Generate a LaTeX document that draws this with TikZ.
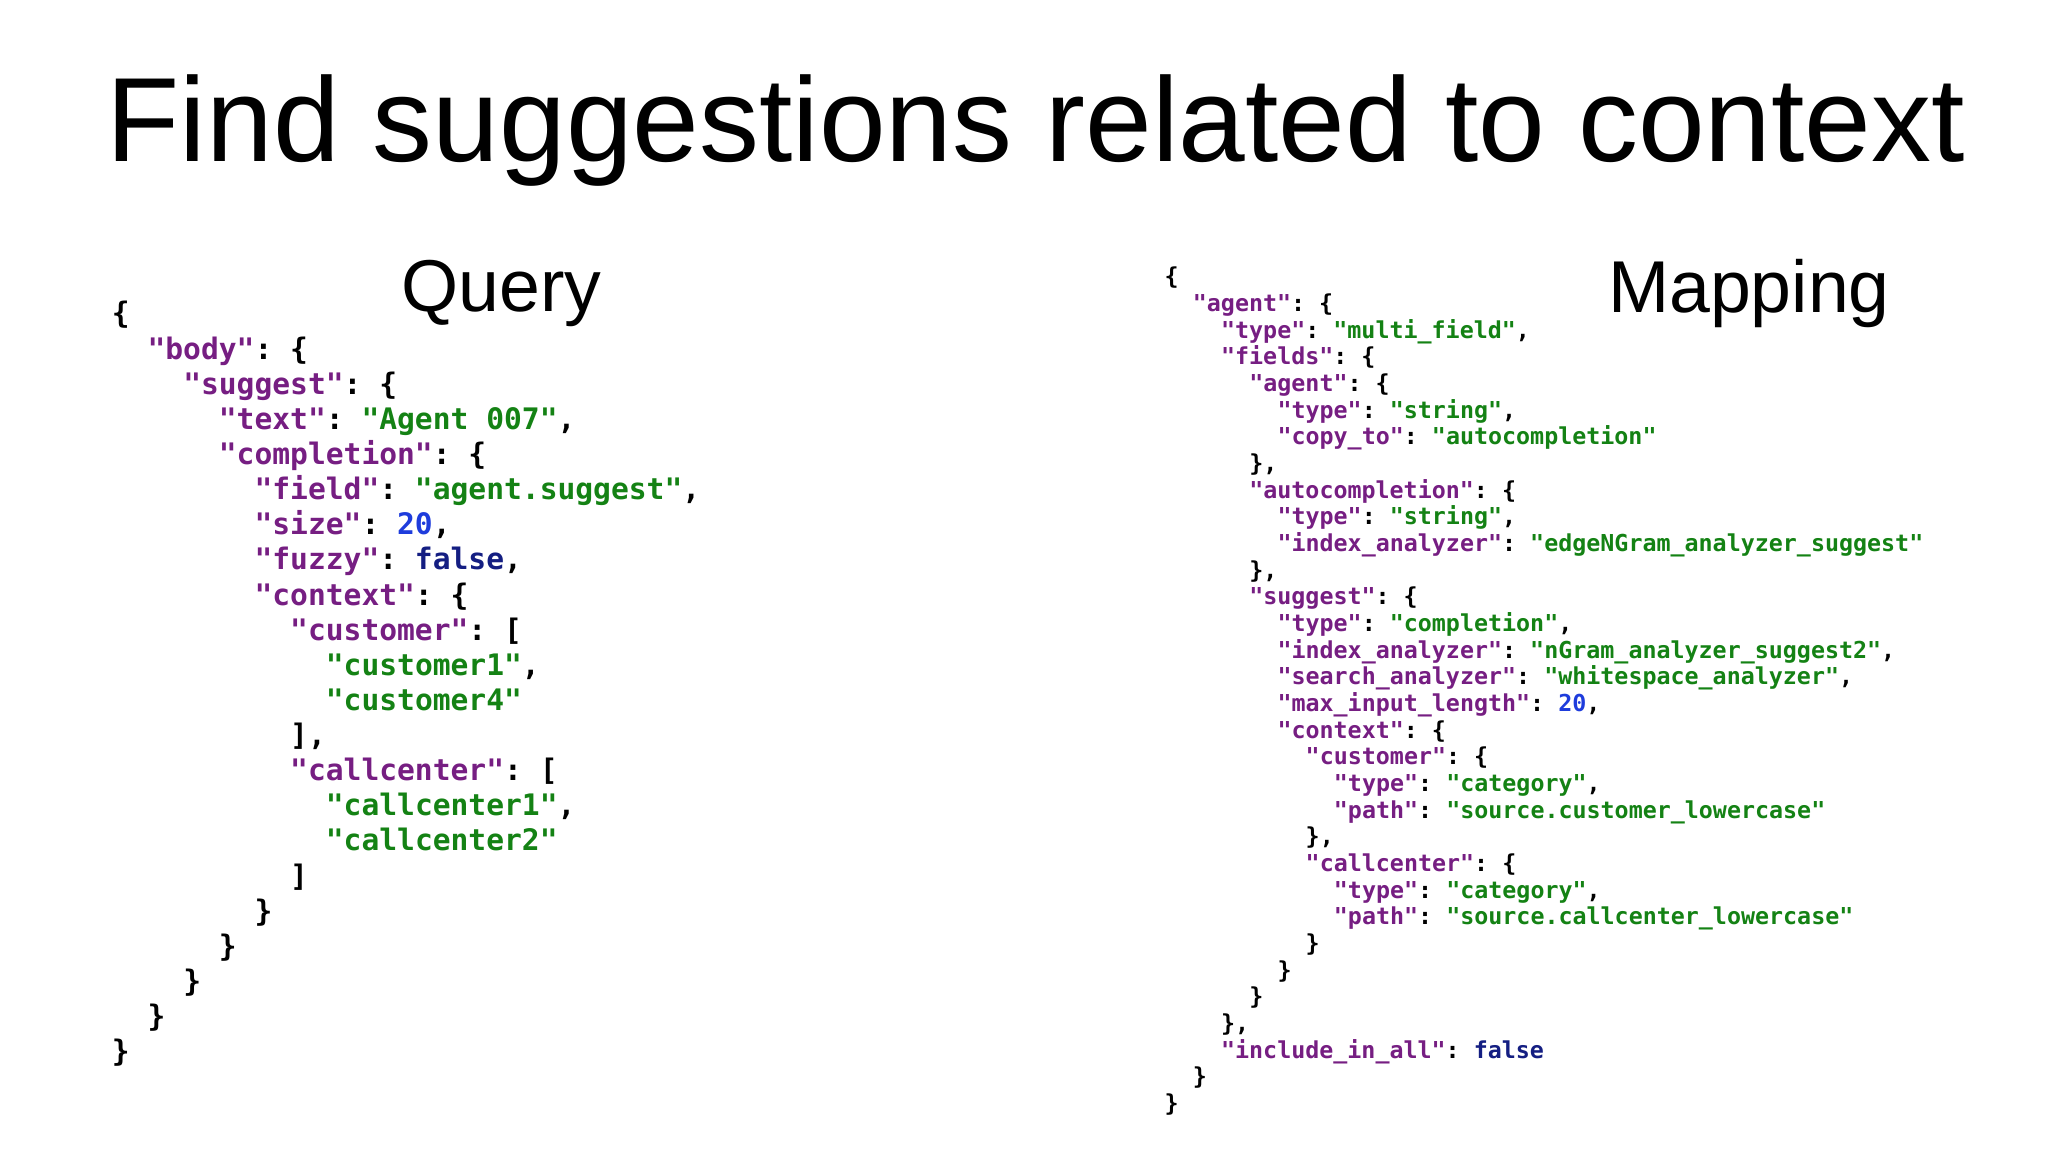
\documentclass[tikz,border=0pt]{standalone}
\usepackage{fontspec}
\setmainfont{Liberation Sans}
\setmonofont{DejaVu Sans Mono}
\definecolor{jkey}{RGB}{118,30,130}
\definecolor{jstr}{RGB}{20,130,20}
\definecolor{jnum}{RGB}{30,60,220}
\definecolor{jbool}{RGB}{20,30,130}
\newcommand\jk[1]{\textcolor{jkey}{"#1"}}
\newcommand\js[1]{\textcolor{jstr}{"#1"}}
\newcommand\jn[1]{\textcolor{jnum}{#1}}
\newcommand\jb[1]{\textcolor{jbool}{#1}}
\begin{document}
\begin{tikzpicture}[x=0.1mm,y=-0.1mm,
  qline/.style={anchor=base west,inner sep=0,font=\fontsize{6.45pt}{7pt}\ttfamily\bfseries},
  mline/.style={anchor=base west,inner sep=0,font=\fontsize{5.08pt}{6pt}\ttfamily\bfseries},
  heading/.style={inner sep=0,font=\fontsize{16pt}{18pt}\selectfont}]
\useasboundingbox (0,0) rectangle (1568,882);
\node[inner sep=0,font=\fontsize{26.1pt}{30pt}\selectfont] (title) at (793,100) {Find suggestions related to context};
\node[heading] (query) at (384,225) {Query};
\node[heading] (mapping) at (1339,225) {Mapping};
% Query
\def\qx#1{85+#1*27.3}
\foreach \i/\l/\t in {
0/0/{\{},
1/1/{\jk{body}: \{},
2/2/{\jk{suggest}: \{},
3/3/{\jk{text}: \js{Agent 007},},
4/3/{\jk{completion}: \{},
5/4/{\jk{field}: \js{agent.suggest},},
6/4/{\jk{size}: \jn{20},},
7/4/{\jk{fuzzy}: \jb{false},},
8/4/{\jk{context}: \{},
9/5/{\jk{customer}: [},
10/6/{\js{customer1},},
11/6/{\js{customer4}},
12/5/{],},
13/5/{\jk{callcenter}: [},
14/6/{\js{callcenter1},},
15/6/{\js{callcenter2}},
16/5/{]},
17/4/{\}},
18/3/{\}},
19/2/{\}},
20/1/{\}},
21/0/{\}}}
  \node[qline] (q\i) at ({85+\l*27.3},{248+\i*26.9}) {\t};
% Mapping
\foreach \i/\l/\t in {
0/0/{\{},
1/1/{\jk{agent}: \{},
2/2/{\jk{type}: \js{multi\_field},},
3/2/{\jk{fields}: \{},
4/3/{\jk{agent}: \{},
5/4/{\jk{type}: \js{string},},
6/4/{\jk{copy\_to}: \js{autocompletion}},
7/3/{\},},
8/3/{\jk{autocompletion}: \{},
9/4/{\jk{type}: \js{string},},
10/4/{\jk{index\_analyzer}: \js{edgeNGram\_analyzer\_suggest}},
11/3/{\},},
12/3/{\jk{suggest}: \{},
13/4/{\jk{type}: \js{completion},},
14/4/{\jk{index\_analyzer}: \js{nGram\_analyzer\_suggest2},},
15/4/{\jk{search\_analyzer}: \js{whitespace\_analyzer},},
16/4/{\jk{max\_input\_length}: \jn{20},},
17/4/{\jk{context}: \{},
18/5/{\jk{customer}: \{},
19/6/{\jk{type}: \js{category},},
20/6/{\jk{path}: \js{source.customer\_lowercase}},
21/5/{\},},
22/5/{\jk{callcenter}: \{},
23/6/{\jk{type}: \js{category},},
24/6/{\jk{path}: \js{source.callcenter\_lowercase}},
25/5/{\}},
26/4/{\}},
27/3/{\}},
28/2/{\},},
29/2/{\jk{include\_in\_all}: \jb{false}},
30/1/{\}},
31/0/{\}}}
  \node[mline] (m\i) at ({891+\l*21.6},{218+\i*20.42}) {\t};
\end{tikzpicture}
\end{document}
